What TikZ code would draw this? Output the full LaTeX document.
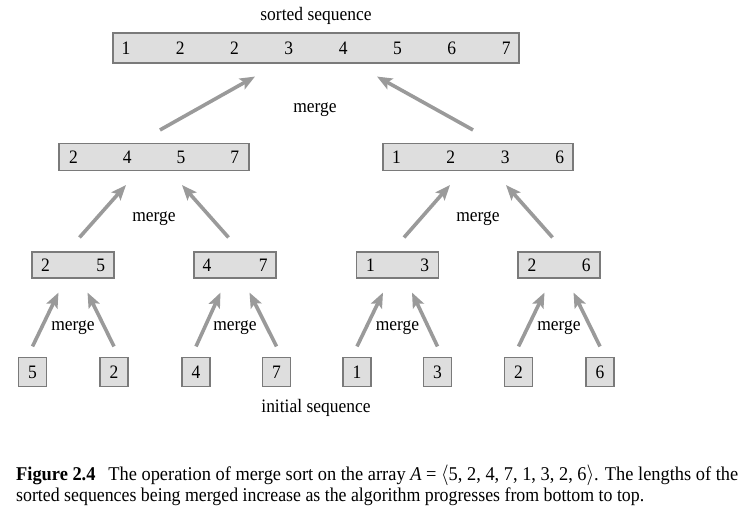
\documentclass[tikz,border=0pt]{standalone}
\usepackage{fontspec}
\usepackage{graphicx}
\setmainfont{Liberation Serif}
\usetikzlibrary{arrows.meta}
\definecolor{boxfill}{HTML}{DEDEDE}
\definecolor{boxline}{HTML}{7A7A7A}
\definecolor{arrowgray}{HTML}{9A9A9A}
\newcommand{\cnd}[1]{\scalebox{0.92}[1]{#1}}
\begin{document}
\begin{tikzpicture}[x=1pt,y=-1pt,
  lbl/.style={font=\fontsize{19}{21}\selectfont, inner sep=0pt},
  caplbl/.style={anchor=base west, inner sep=0pt, font=\fontsize{19.5}{19}\selectfont},
  seqbox/.style={draw=boxline, fill=boxfill, line width=1.1pt, inner sep=0pt,
    font=\fontsize{19}{21}\selectfont, minimum height=28pt},
  mergearrow/.style={draw=arrowgray, line width=3.6pt,
    -{Stealth[length=15pt,width=12pt,inset=3pt]}}]
\useasboundingbox (0,0) rectangle (752,520);
% top
\node[lbl] (sorted) at (316,16) {\cnd{sorted sequence}};
\node[seqbox, minimum width=406pt, minimum height=30pt] (top) at (316,48)
  {\makebox[389pt]{\cnd{1}\hfill\cnd{2}\hfill\cnd{2}\hfill\cnd{3}\hfill\cnd{4}\hfill\cnd{5}\hfill\cnd{6}\hfill\cnd{7}}};
% level 2
\node[seqbox, minimum width=190pt, minimum height=27pt] (la) at (154,157)
  {\makebox[170pt]{\cnd{2}\hfill\cnd{4}\hfill\cnd{5}\hfill\cnd{7}}};
\node[seqbox, minimum width=190pt, minimum height=27pt] (lb) at (478,157)
  {\makebox[172pt]{\cnd{1}\hfill\cnd{2}\hfill\cnd{3}\hfill\cnd{6}}};
% level 3
\node[seqbox, minimum width=82pt, minimum height=26pt] (ma) at (73,265)
  {\makebox[64pt]{\cnd{2}\hfill\cnd{5}}};
\node[seqbox, minimum width=82pt, minimum height=26pt] (mb) at (235,265)
  {\makebox[65pt]{\cnd{4}\hfill\cnd{7}}};
\node[seqbox, minimum width=82pt, minimum height=26pt] (mc) at (397.5,265)
  {\makebox[63pt]{\cnd{1}\hfill\cnd{3}}};
\node[seqbox, minimum width=82pt, minimum height=26pt] (md) at (559,265)
  {\makebox[63pt]{\cnd{2}\hfill\cnd{6}}};
% bottom
\foreach \n/\x/\v in {a/32.5/5, b/114/2, c/196/4, d/276.5/7, e/357/1, f/437.5/3, g/518.5/2, h/600/6}
  \node[seqbox, minimum width=28pt, minimum height=29pt] (b\n) at (\x,372) {\cnd{\v}};
\node[lbl] (initial) at (316,408) {\cnd{initial sequence}};
% arrows bottom -> level 3
\foreach \l/\r/\m in {ba/bb/ma, bc/bd/mb, be/bf/mc, bg/bh/md} {
  \draw[mergearrow] ([shift={(0,-10.5)}]\l.north) -- ([shift={(-14.5,14)}]\m.south);
  \draw[mergearrow] ([shift={(0,-10.5)}]\r.north) -- ([shift={(14.5,14)}]\m.south);
  \node[lbl] (merge-\m) at ([shift={(0,63)}]\m.center) {\cnd{merge}};
}
% arrows level 3 -> level 2
\foreach \l/\r/\m in {ma/mb/la, mc/md/lb} {
  \draw[mergearrow] ([shift={(6.5,-14)}]\l.north) -- ([shift={(-28,14)}]\m.south);
  \draw[mergearrow] ([shift={(-6.5,-14)}]\r.north) -- ([shift={(28,14)}]\m.south);
  \node[lbl] (merge-\m) at ([shift={(0,62)}]\m.center) {\cnd{merge}};
}
% arrows level 2 -> top
\draw[mergearrow] ([shift={(6,-13)}]la.north) -- ([shift={(-61,13)}]top.south);
\draw[mergearrow] ([shift={(-5,-13)}]lb.north) -- ([shift={(61,13)}]top.south);
\node[lbl] (merge-top) at (315,110) {\cnd{merge}};
% caption
\node[caplbl] (caption1) at (16,480)
  {\resizebox{722pt}{\height}{\textbf{Figure 2.4}\hspace{0.7em}The operation of merge sort on the array \textit{A} = \ensuremath{\langle}5, 2, 4, 7, 1, 3, 2, 6\ensuremath{\rangle}. The lengths of the}};
\node[caplbl] (caption2) at (16,501)
  {\resizebox{628pt}{\height}{sorted sequences being merged increase as the algorithm progresses from bottom to top.}};
\end{tikzpicture}
\end{document}
